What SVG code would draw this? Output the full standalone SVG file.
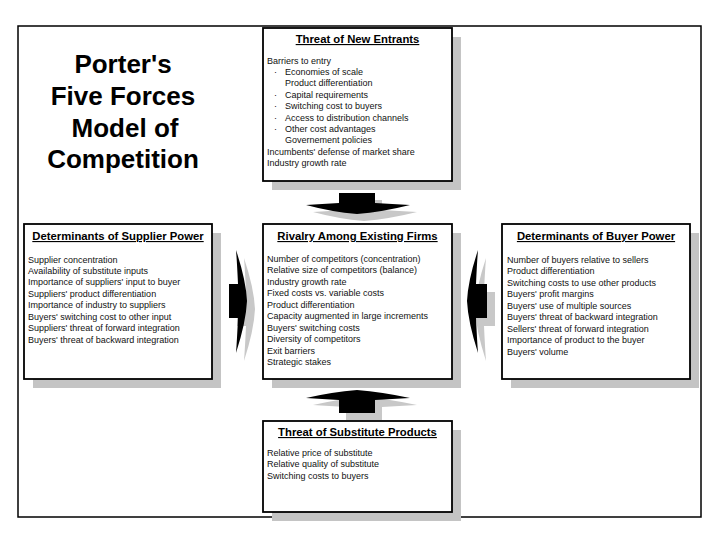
<svg xmlns="http://www.w3.org/2000/svg" width="720" height="540" viewBox="0 0 720 540">
<style>
.frame{fill:#fff;stroke:#000;stroke-width:1.5}
.box{fill:#fff;stroke:#000;stroke-width:1.8}
.shadow{fill:#c4c4c4}
.ttl{font-family:"Liberation Sans",Arial,sans-serif;font-size:11.3px;font-weight:bold;text-anchor:middle;text-decoration:underline;fill:#000}
.body{font-family:"Liberation Sans",Arial,sans-serif;font-size:9px;fill:#111}
.main{font-family:"Liberation Sans",Arial,sans-serif;font-size:26px;font-weight:bold;text-anchor:middle;fill:#000}
.arr{fill:#000}
.arrsh{fill:#c8c8c8}
</style>
<rect x="0" y="0" width="720" height="540" fill="#fff"/>
<rect class="frame" x="18" y="26" width="683" height="491"/>

<g id="title">
<text class="main" x="123" y="73">Porter's</text>
<text class="main" x="123" y="105">Five Forces</text>
<text class="main" x="125" y="137">Model of</text>
<text class="main" x="123" y="168">Competition</text>
</g>

<g id="connectors">
<g id="arrow-top">
<path class="arrsh" transform="translate(7,7)" d="M339,193 H375 V203 Q392,204 410,205 Q382,212 357,214 Q332,212 306,205 Q322,204 339,203 Z"/>
<path class="arr" d="M339,193 H375 V203 Q392,204 410,205 Q382,212 357,214 Q332,212 306,205 Q322,204 339,203 Z"/>
</g>
<g id="arrow-bottom">
<path class="arrsh" transform="translate(7,7)" d="M339,413 H375 V400 Q392,399 410,398 Q382,392 357,390 Q332,392 306,398 Q322,399 339,400 Z"/>
<path class="arr" d="M339,413 H375 V400 Q392,399 410,398 Q382,392 357,390 Q332,392 306,398 Q322,399 339,400 Z"/>
</g>
<g id="arrow-left">
<path class="arrsh" transform="translate(8,8)" d="M229,284 H238 Q237,262 236,250 Q246,280 247,301 Q246,322 236,353 Q237,340 238,318 H229 Z"/>
<path class="arr" d="M229,284 H238 Q237,262 236,250 Q246,280 247,301 Q246,322 236,353 Q237,340 238,318 H229 Z"/>
</g>
<g id="arrow-right">
<path class="arrsh" transform="translate(8,8)" d="M487,284 H476 Q477,262 478,250 Q468,280 467,301 Q468,322 478,353 Q477,340 476,318 H487 Z"/>
<path class="arr" d="M487,284 H476 Q477,262 478,250 Q468,280 467,301 Q468,322 478,353 Q477,340 476,318 H487 Z"/>
</g>
</g>

<g id="new-entrants">
<rect class="shadow" x="272" y="37" width="189" height="153"/>
<rect class="box" x="263" y="28" width="189" height="153"/>
<text class="ttl" x="357.5" y="43">Threat of New Entrants</text>
<text class="body">
<tspan x="267" y="63.5">Barriers to entry</tspan>
<tspan x="274" y="74.9">·</tspan><tspan x="285" y="74.9">Economies of scale</tspan>
<tspan x="285" y="86.3">Product differentiation</tspan>
<tspan x="274" y="97.7">·</tspan><tspan x="285" y="97.7">Capital requirements</tspan>
<tspan x="274" y="109.1">·</tspan><tspan x="285" y="109.1">Switching cost to buyers</tspan>
<tspan x="274" y="120.5">·</tspan><tspan x="285" y="120.5">Access to distribution channels</tspan>
<tspan x="274" y="131.9">·</tspan><tspan x="285" y="131.9">Other cost advantages</tspan>
<tspan x="285" y="143.3">Governement policies</tspan>
<tspan x="267" y="154.7">Incumbents' defense of market share</tspan>
<tspan x="267" y="166.1">Industry growth rate</tspan>
</text>
</g>

<g id="supplier-power">
<rect class="shadow" x="33" y="233" width="188" height="155"/>
<rect class="box" x="24" y="224" width="188" height="155"/>
<text class="ttl" x="118" y="240">Determinants of Supplier Power</text>
<text class="body">
<tspan x="28" y="262.5">Supplier concentration</tspan>
<tspan x="28" y="274">Availability of substitute inputs</tspan>
<tspan x="28" y="285.4">Importance of suppliers' input to buyer</tspan>
<tspan x="28" y="296.9">Suppliers' product differentiation</tspan>
<tspan x="28" y="308.3">Importance of industry to suppliers</tspan>
<tspan x="28" y="319.8">Buyers' switching cost to other input</tspan>
<tspan x="28" y="331.2">Suppliers' threat of forward integration</tspan>
<tspan x="28" y="342.6">Buyers' threat of backward integration</tspan>
</text>
</g>

<g id="rivalry">
<rect class="shadow" x="272" y="233" width="189" height="155"/>
<rect class="box" x="263" y="224" width="189" height="155"/>
<text class="ttl" x="357.5" y="240">Rivalry Among Existing Firms</text>
<text class="body">
<tspan x="267" y="261.5">Number of competitors (concentration)</tspan>
<tspan x="267" y="273">Relative size of competitors (balance)</tspan>
<tspan x="267" y="284.5">Industry growth rate</tspan>
<tspan x="267" y="296">Fixed costs vs. variable costs</tspan>
<tspan x="267" y="307.5">Product differentiation</tspan>
<tspan x="267" y="319">Capacity augmented in large increments</tspan>
<tspan x="267" y="330.5">Buyers' switching costs</tspan>
<tspan x="267" y="342">Diversity of competitors</tspan>
<tspan x="267" y="353.5">Exit barriers</tspan>
<tspan x="267" y="365">Strategic stakes</tspan>
</text>
</g>

<g id="buyer-power">
<rect class="shadow" x="511" y="233" width="188" height="155"/>
<rect class="box" x="502" y="224" width="188" height="155"/>
<text class="ttl" x="596" y="240">Determinants of Buyer Power</text>
<text class="body">
<tspan x="507" y="262.5">Number of buyers relative to sellers</tspan>
<tspan x="507" y="274">Product differentiation</tspan>
<tspan x="507" y="285.5">Switching costs to use other products</tspan>
<tspan x="507" y="297">Buyers' profit margins</tspan>
<tspan x="507" y="308.5">Buyers' use of multiple sources</tspan>
<tspan x="507" y="320">Buyers' threat of backward integration</tspan>
<tspan x="507" y="331.5">Sellers' threat of forward integration</tspan>
<tspan x="507" y="343">Importance of product to the buyer</tspan>
<tspan x="507" y="354.5">Buyers' volume</tspan>
</text>
</g>

<g id="substitutes">
<rect class="shadow" x="272" y="430" width="189" height="91"/>
<rect class="box" x="263" y="421" width="189" height="91"/>
<text class="ttl" x="357.5" y="436">Threat of Substitute Products</text>
<text class="body">
<tspan x="267" y="455.5">Relative price of substitute</tspan>
<tspan x="267" y="467">Relative quality of substitute</tspan>
<tspan x="267" y="478.5">Switching costs to buyers</tspan>
</text>
</g>
</svg>
